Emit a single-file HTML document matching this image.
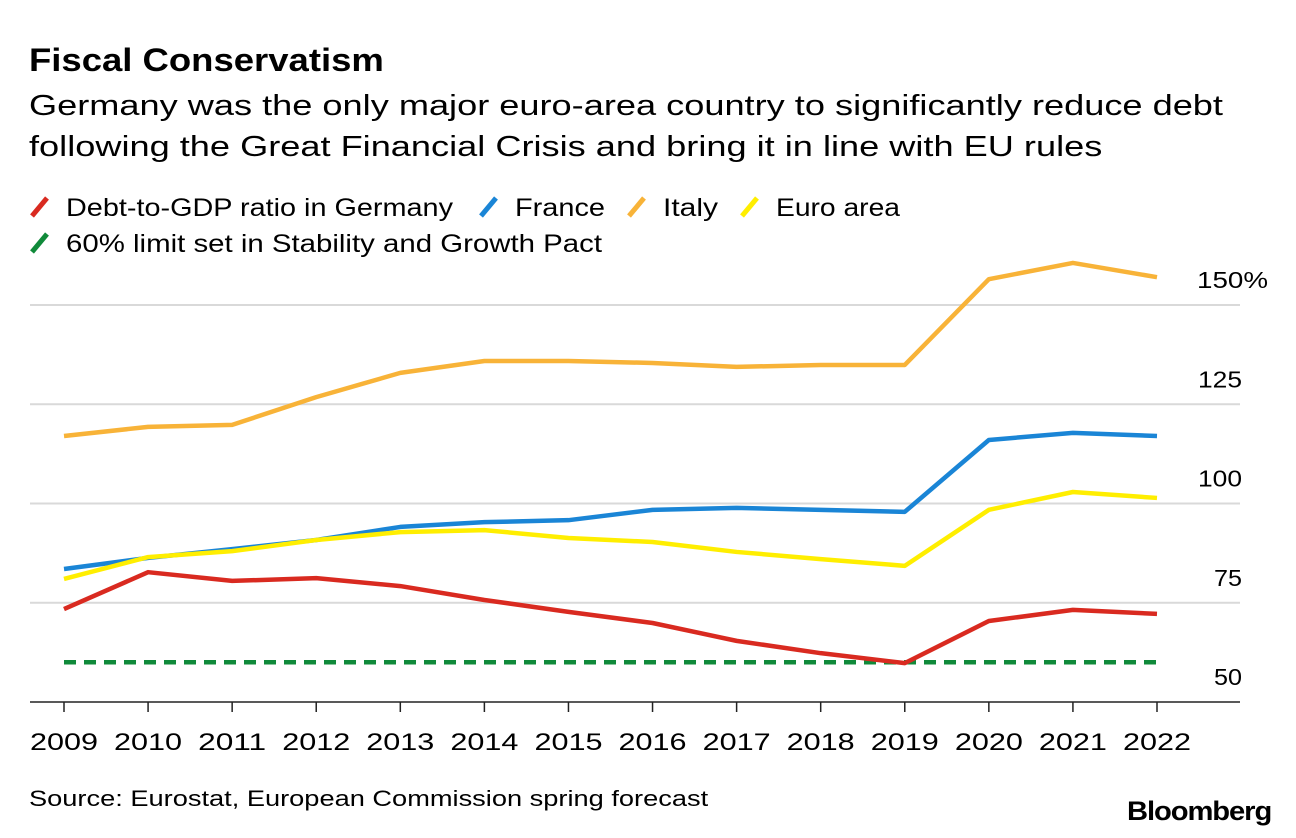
<!DOCTYPE html>
<html><head><meta charset="utf-8"><style>
body{margin:0;background:#fff;font-family:"Liberation Sans",sans-serif;}
#wrap{position:relative;width:1296px;height:838px;overflow:hidden;}
.t{position:absolute;color:#000;white-space:nowrap;transform-origin:0 0;}
</style></head><body>
<div id="wrap">
<div class="t" style="left:29px;top:42px;font-size:32px;font-weight:bold;transform:scaleX(1.14);">Fiscal Conservatism</div>
<div class="t" style="left:29px;top:86px;font-size:29px;line-height:41px;transform:scaleX(1.247);">Germany was the only major euro-area country to significantly reduce debt<br>following the Great Financial Crisis and bring it in line with EU rules</div>
<svg id="svg" width="1296" height="838" style="position:absolute;left:0;top:0"></svg>
<div class="t" style="left:29px;top:786px;font-size:22px;transform:scaleX(1.237);">Source: Eurostat, European Commission spring forecast</div>
<div class="t" style="left:1127px;top:796px;font-size:27px;font-weight:bold;letter-spacing:-1px;transform:scaleX(1.08);">Bloomberg</div>
</div>
<script>
const years=[2009,2010,2011,2012,2013,2014,2015,2016,2017,2018,2019,2020,2021,2022];
const germany=[73.4,82.7,80.5,81.2,79.2,75.7,72.7,69.9,65.4,62.3,59.8,70.4,73.2,72.2];
const france=[83.5,86.3,88.5,90.8,94.1,95.3,95.8,98.4,98.9,98.4,97.9,116,117.8,117];
const italy=[117,119.3,119.8,126.8,132.9,135.9,135.9,135.4,134.4,134.9,134.9,156.5,160.6,157];
const euro=[81,86.5,88,90.8,92.8,93.3,91.3,90.3,87.8,86,84.3,98.4,102.9,101.4];
const limit=[60,60,60,60,60,60,60,60,60,60,60,60,60,60];
const yTicks=[50,75,100,125,150];
const yTickLabels=["50","75","100","125","150%"];
const x=i=>64+(1157-64)*i/(years.length-1);
const y=v=>702-(v-50)*(702-305)/100;
const svg=document.getElementById('svg');
const NS='http://www.w3.org/2000/svg';
function mk(tag,attrs){const e=document.createElementNS(NS,tag);for(const k in attrs)e.setAttribute(k,attrs[k]);svg.appendChild(e);return e;}
yTicks.forEach((t,i)=>{
  if(i>0){const g=mk('line',{x1:30,x2:1240,y1:y(t),y2:y(t),stroke:'#d9d9d9','stroke-width':2});
  
  }
  const lbl=yTickLabels[i];
  const w=lbl.length===4?71:lbl.length===3?44:28;
  const xs=lbl.length===4?1197:1242-w;
  const tx=mk('text',{x:xs,y:y(t)-17,'font-size':23,'font-family':'Liberation Sans, sans-serif',textLength:w,lengthAdjust:'spacingAndGlyphs'});
  tx.textContent=lbl;
  
  
});
const ax=mk('line',{x1:30,x2:1240,y1:702,y2:702,stroke:'#222','stroke-width':1.5});


years.forEach((yr,i)=>{
  const tk=mk('line',{x1:x(i),x2:x(i),y1:702,y2:712,stroke:'#222','stroke-width':1.5});
  
  
  const tx=mk('text',{x:x(i)-34,y:750,'font-size':24,'font-family':'Liberation Sans, sans-serif',textLength:68,lengthAdjust:'spacingAndGlyphs'});
  tx.textContent=yr;
  
  
});
function line(arr,color,name,dash){
  const p=mk('polyline',{points:arr.map((v,i)=>x(i)+','+y(v)).join(' '),fill:'none',stroke:color,'stroke-width':4.5,'stroke-linejoin':'round'});
  if(dash)p.setAttribute('stroke-dasharray',dash);
  
  
}
line(limit,'#108a3a','limit-60-line','12,8');
line(italy,'#f8b338','italy-line');
line(france,'#1a85d6','france-line');
line(euro,'#ffee00','euro-area-line');
line(germany,'#d92a20','germany-line');
const legend=[[30,207,'#d92a20','Debt-to-GDP ratio in Germany',387],[479,207,'#1a85d6','France',90],[627,207,'#f8b338','Italy',55],[740,207,'#ffee00','Euro area',124],[30,243,'#108a3a','60% limit set in Stability and Growth Pact',536]];
legend.forEach(l=>{
  const s=mk('line',{x1:l[0]+2,y1:l[1]+9,x2:l[0]+17,y2:l[1]-9,stroke:l[2],'stroke-width':5});
  
  
  const t=mk('text',{x:l[0]+36,y:l[1]+9,'font-size':25,'font-family':'Liberation Sans, sans-serif',textLength:l[4],lengthAdjust:'spacingAndGlyphs'});
  t.textContent=l[3];
  
  
});
</script>
</body></html>
